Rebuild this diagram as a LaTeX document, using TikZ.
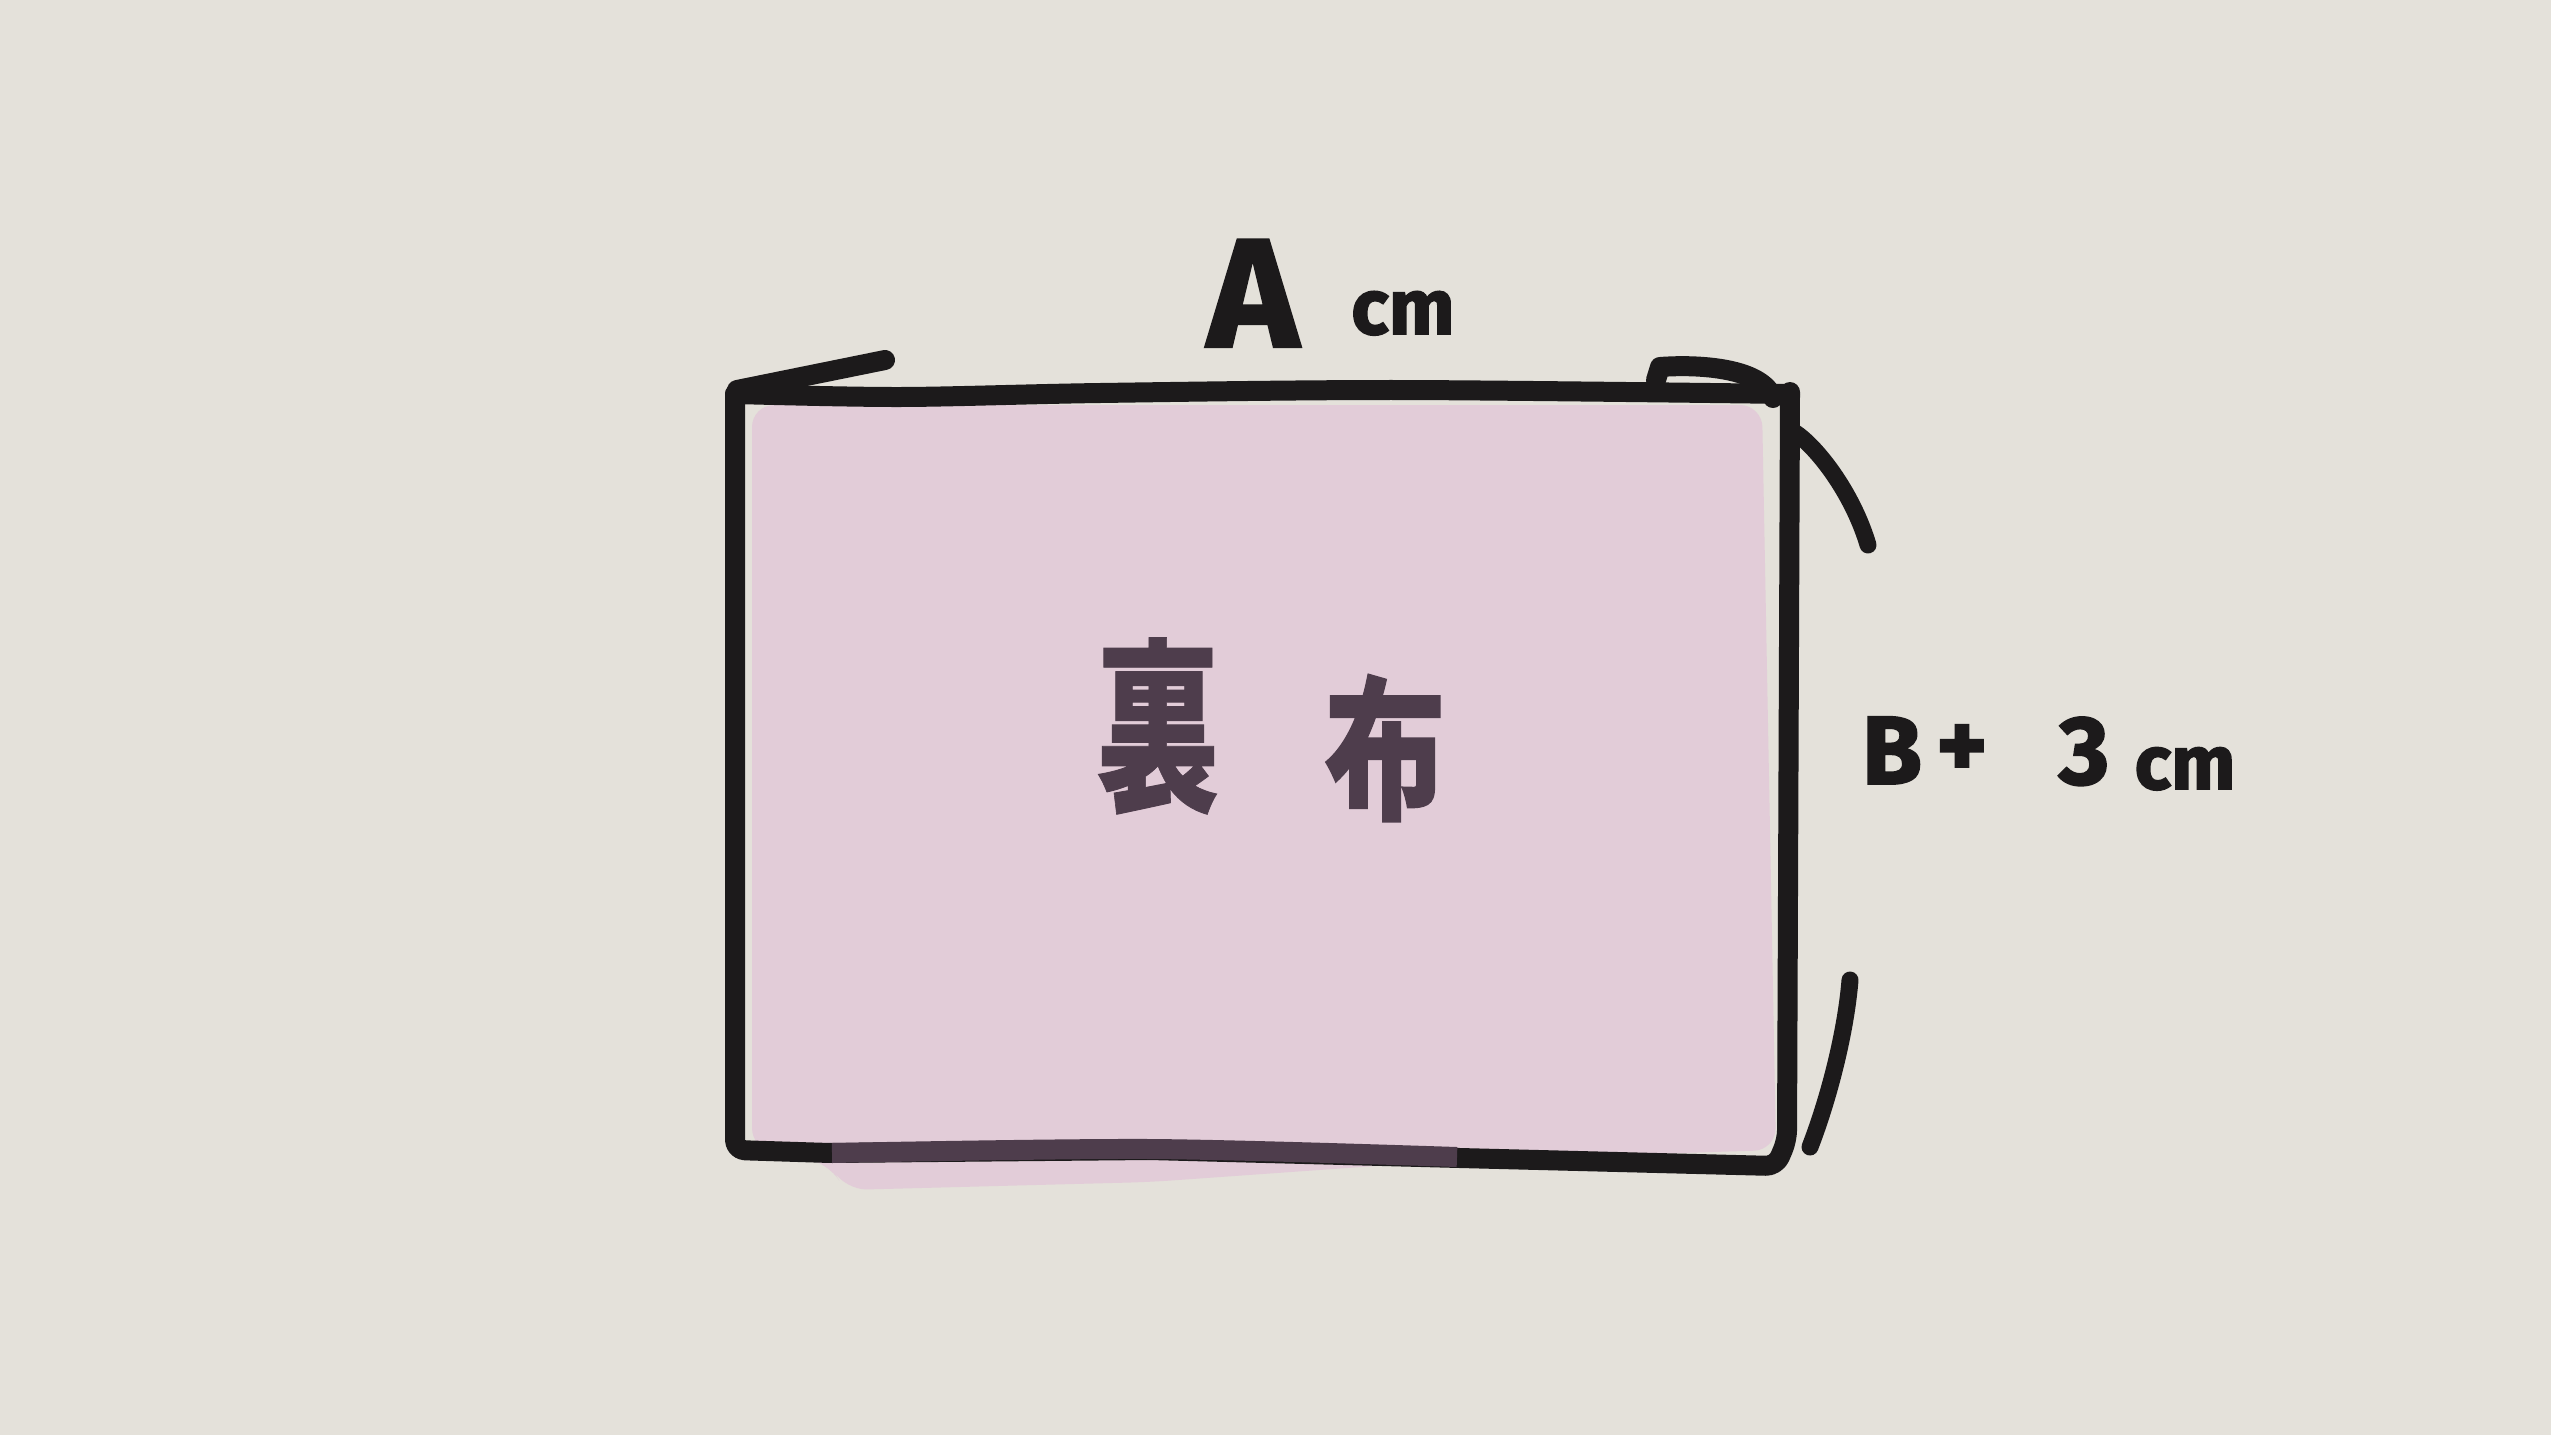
\documentclass[tikz,border=0pt]{standalone}
\usepackage{fontspec}
\usepackage{graphicx}
\setmainfont{Fira Sans}
\newfontfamily\cjk{Noto Sans CJK JP}
\definecolor{paper}{HTML}{E4E1DA}
\definecolor{cloth}{HTML}{E2CCD8}
\definecolor{ink}{HTML}{1C1A1B}
\definecolor{purpleink}{HTML}{4E3D4C}
\tikzset{
  pen/.style={draw=ink, line width=20pt, line cap=round, line join=round},
  lbl/.style={text=ink, inner sep=0pt, anchor=base},
}
\begin{document}
\begin{tikzpicture}[x=1pt,y=-1pt]
\useasboundingbox[fill=paper] (0,0) rectangle (2551,1435);
% pink cloth
\fill[cloth, rounded corners=22pt] (752,405) -- (1762,405) -- (1776,1150) -- (1460,1160)
  -- (1150,1182) -- (845,1190) -- (828,1162) -- (752,1150) -- cycle;
% rectangle outline
\draw[pen] plot[smooth] coordinates {(735,394) (900,397) (1100,393) (1400,390) (1790,394)};
\draw[pen, rounded corners=10pt] (1790,392) -- (1787,1140) -- (1776,1166)
  -- (1460,1158) -- (1150,1150) -- (830,1153) -- (735,1150) -- (735,394);
\draw[pen, draw=purpleink, line cap=butt] plot[smooth] coordinates {(832,1153) (1150,1149) (1457,1157)};
% tick marks
\draw[pen] (737,390) -- (885,360);
\draw[pen] (1656,380) -- (1660,367) .. controls (1700,364) and (1762,368) .. (1773,398);
\draw[pen, line width=17pt] (1794,432) .. controls (1815,445) and (1852,491) .. (1868,545);
\draw[pen, line width=17pt] (1850,980) .. controls (1846,1030) and (1830,1095) .. (1810,1147);
% labels
\node[lbl, font=\fontsize{155}{155}\selectfont\bfseries\addfontfeature{FakeBold=1.5}] (A) at (1253,347) {A};
\node[lbl, font=\fontsize{78}{78}\selectfont\bfseries\addfontfeature{FakeBold=2}] (Acm) at (1403,334) {cm};
\node[lbl, font=\fontsize{97}{97}\selectfont\bfseries\addfontfeature{FakeBold=2}] (B) at (1892,784) {B};
\node[lbl, font=\fontsize{97}{97}\selectfont\bfseries\addfontfeature{FakeBold=2}] (plus) at (1962,778) {+};
\node[lbl, font=\fontsize{97}{97}\selectfont\bfseries\addfontfeature{FakeBold=2}] (three) at (2084,784) {3};
\node[lbl, font=\fontsize{76}{76}\selectfont\bfseries\addfontfeature{FakeBold=2}] (Bcm) at (2185,789) {cm};
\node[text=purpleink, inner sep=0pt, font=\cjk\bfseries\fontsize{185}{185}\selectfont\addfontfeature{FakeBold=0.5}] (ura) at (1158,726) {\scalebox{0.66}[1]{裏}};
\node[text=purpleink, inner sep=0pt, font=\cjk\bfseries\fontsize{155}{155}\selectfont\addfontfeature{FakeBold=1}] (nuno) at (1385,748) {\scalebox{0.78}[1]{布}};
\end{tikzpicture}
\end{document}
